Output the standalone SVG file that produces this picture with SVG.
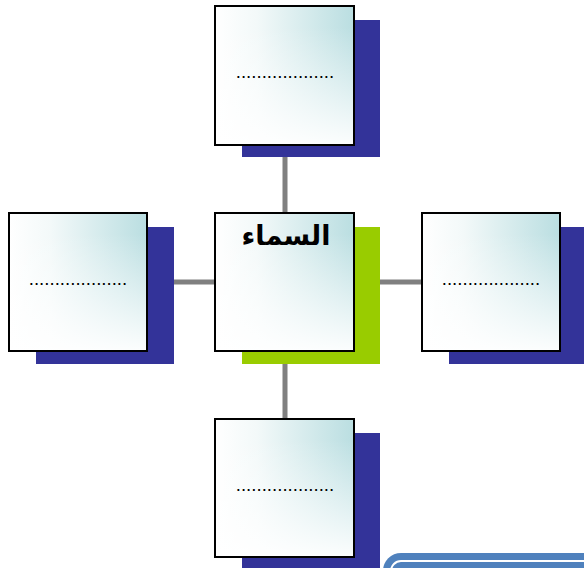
<svg xmlns="http://www.w3.org/2000/svg" width="584" height="568" viewBox="0 0 584 568">
  <defs>
    <linearGradient id="gH" x1="0" y1="0" x2="1" y2="0">
      <stop offset="0" stop-color="#FFFFFF"/>
      <stop offset="0.3" stop-color="#F3F9F9"/>
      <stop offset="1" stop-color="#BADEE1"/>
    </linearGradient>
    <linearGradient id="gV" x1="0" y1="0" x2="0" y2="1">
      <stop offset="0.15" stop-color="#FFFFFF" stop-opacity="0"/>
      <stop offset="1" stop-color="#FFFFFF" stop-opacity="0.95"/>
    </linearGradient>
    <style>
      .shadow-blue { fill: #333399; }
      .shadow-green { fill: #99CC00; }
      .base { fill: url(#gH); }
      .over { fill: url(#gV); }
      .frame { fill: none; stroke: #000000; stroke-width: 2; }
      .dots { font-family: "Liberation Sans", Arial, sans-serif; font-size: 18.67px; fill: #000000; text-anchor: middle; }
      .title { font-family: "DejaVu Sans", sans-serif; font-size: 27px; font-weight: bold; fill: #000000; text-anchor: middle; }
      .conn { stroke: #808080; stroke-width: 5; fill: none; }
    </style>
  </defs>
  <rect width="584" height="568" fill="#FFFFFF"/>

  <g id="connectors">
    <line class="conn" x1="285" y1="145" x2="285" y2="420"/>
    <line class="conn" x1="147" y1="282" x2="422" y2="282"/>
  </g>

  <g id="node-top">
    <rect class="shadow-blue" x="242" y="20" width="138" height="137"/>
    <rect class="base" x="215" y="6" width="139" height="139"/>
    <rect class="over" x="215" y="6" width="139" height="139"/>
    <rect class="frame" x="215" y="6" width="139" height="139"/>
    <text class="dots" x="285" y="78">...................</text>
  </g>

  <g id="node-left">
    <rect class="shadow-blue" x="36" y="227" width="138" height="137"/>
    <rect class="base" x="9" y="213" width="138" height="138"/>
    <rect class="over" x="9" y="213" width="138" height="138"/>
    <rect class="frame" x="9" y="213" width="138" height="138"/>
    <text class="dots" x="78" y="285">...................</text>
  </g>

  <g id="node-center">
    <rect class="shadow-green" x="242" y="227" width="138" height="137"/>
    <rect class="base" x="215" y="213" width="139" height="138"/>
    <rect class="over" x="215" y="213" width="139" height="138"/>
    <rect class="frame" x="215" y="213" width="139" height="138"/>
    <text class="title" x="286" y="245">السماء</text>
  </g>

  <g id="node-right">
    <rect class="shadow-blue" x="449" y="227" width="140" height="137"/>
    <rect class="base" x="422" y="213" width="138" height="138"/>
    <rect class="over" x="422" y="213" width="138" height="138"/>
    <rect class="frame" x="422" y="213" width="138" height="138"/>
    <text class="dots" x="491" y="285">...................</text>
  </g>

  <g id="node-bottom">
    <rect class="shadow-blue" x="242" y="433" width="138" height="140"/>
    <rect class="base" x="215" y="419" width="139" height="138"/>
    <rect class="over" x="215" y="419" width="139" height="138"/>
    <rect class="frame" x="215" y="419" width="139" height="138"/>
    <text class="dots" x="285" y="491">...................</text>
  </g>

  <g id="corner-frame">
    <rect x="383" y="553" width="260" height="80" rx="18" fill="#4F81BD"/>
    <rect x="391" y="561" width="250" height="60" rx="10" fill="none" stroke="#FFFFFF" stroke-width="2"/>
  </g>
</svg>
